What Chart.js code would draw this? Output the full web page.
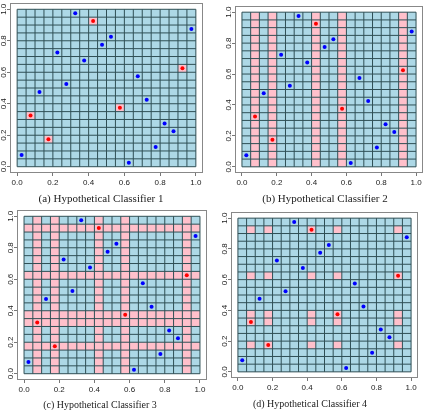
<!DOCTYPE html>
<html><head><meta charset="utf-8">
<script src="https://cdn.jsdelivr.net/npm/chart.js@4.4.1/dist/chart.umd.min.js"></script>
<style>
html,body{margin:0;padding:0;background:#fff;}
body{width:425px;height:410px;position:relative;overflow:hidden;}
canvas{position:absolute;}
.cap{position:absolute;font-family:"Liberation Serif",serif;color:#222;white-space:nowrap;transform:translateX(-50%);line-height:1;}
</style></head><body>
<canvas id="c1"></canvas><canvas id="c2"></canvas><canvas id="c3"></canvas><canvas id="c4"></canvas>
<div class="cap" id="t1"></div><div class="cap" id="t2"></div><div class="cap" id="t3"></div><div class="cap" id="t4"></div>
<script>
// ---- data ----
const blueX = [0.025,0.125,0.225,0.275,0.325,0.375,0.475,0.525,0.625,0.675,0.725,0.775,0.825,0.875,0.975];
const blueY = [0.075,0.475,0.725,0.525,0.975,0.675,0.775,0.825,0.025,0.575,0.425,0.125,0.275,0.225,0.875];
const redX  = [0.075,0.175,0.425,0.575,0.925];
const redY  = [0.325,0.175,0.925,0.375,0.625];
const tickValues = [0.0,0.2,0.4,0.6,0.8,1.0];
const gridValues = [0,0.05,0.1,0.15,0.2,0.25,0.3,0.35,0.4,0.45,0.5,0.55,0.6,0.65,0.7,0.75,0.8,0.85,0.9,0.95,1.0];
const cellSize = 0.05;
// pink cells (lower-left corners)
const clf1CellX = [0.05,0.15,0.40,0.55,0.90];
const clf1CellY = [0.30,0.15,0.90,0.35,0.60];
const clf2Cols  = [0.05,0.15,0.40,0.55,0.90];
const clf3Cols  = [0.05,0.15,0.40,0.55,0.90];
const clf3Rows  = [0.15,0.30,0.35,0.60,0.90];
const clf4Cols  = [0.05,0.15,0.40,0.55,0.90];
const clf4Rows  = [0.15,0.30,0.35,0.60,0.90];
const captions = ["(a) Hypothetical Classifier 1","(b) Hypothetical Classifier 2","(c) Hypothetical Classifier 3","(d) Hypothetical Classifier 4"];

// ---- rect lists built from the arrays ----
const rects1 = clf1CellX.map((x,i)=>[x,x+cellSize,clf1CellY[i],clf1CellY[i]+cellSize]);
const rects2 = clf2Cols.map(x=>[x,x+cellSize,0,1]);
const rects3 = clf3Cols.map(x=>[x,x+cellSize,0,1]).concat(clf3Rows.map(y=>[0,1,y,y+cellSize]));
const rects4 = [];
clf4Cols.forEach(x=>clf4Rows.forEach(y=>rects4.push([x,x+cellSize,y,y+cellSize])));

const cellPlugin = {
  id:'cellGrid',
  beforeDatasetsDraw(chart, args, opts){
    const {ctx, chartArea:a, scales:{x:sx, y:sy}} = chart;
    ctx.save();
    const X = v=>sx.getPixelForValue(v), Y = v=>sy.getPixelForValue(v);
    ctx.fillStyle = '#add8e6';
    ctx.fillRect(X(0), Y(1), X(1)-X(0), Y(0)-Y(1));
    ctx.fillStyle = '#ffc0cb';
    opts.rects.forEach(r=>{ ctx.fillRect(X(r[0]), Y(r[3]), X(r[1])-X(r[0]), Y(r[2])-Y(r[3])); });
    ctx.strokeStyle = '#2f4f55';
    ctx.lineWidth = 1;
    ctx.beginPath();
    gridValues.forEach(v=>{
      ctx.moveTo(X(v), Y(0)); ctx.lineTo(X(v), Y(1));
      ctx.moveTo(X(0), Y(v)); ctx.lineTo(X(1), Y(v));
    });
    ctx.stroke();
    ctx.strokeStyle = '#888';
    ctx.strokeRect(a.left+0.5, a.top+0.5, a.right-a.left-1, a.bottom-a.top-1);
    ctx.restore();
  }
};

const YW = 14, PT = 3, PR = 6, XH = 20;
function makeChart(id, rects, box, fs){
  const cv = document.getElementById(id);
  cv.width = (box.r-box.l)+YW+PR; cv.height = (box.b-box.t)+PT+XH;
  cv.style.left = (box.l-YW)+'px'; cv.style.top = (box.t-PT)+'px';
  cv.style.width = cv.width+'px'; cv.style.height = cv.height+'px';
  const tickFont = {family:'Liberation Sans', size:fs};
  new Chart(cv, {
    type:'scatter',
    data:{datasets:[
      {data: blueX.map((x,i)=>({x:x, y:blueY[i]})), backgroundColor:'#0000ff', borderWidth:0, pointRadius:2},
      {data: redX.map((x,i)=>({x:x, y:redY[i]})), backgroundColor:'#ff0000', borderWidth:0, pointRadius:2}
    ]},
    options:{
      responsive:false, animation:false, events:[],
      layout:{padding:{left:0, top:PT, right:PR, bottom:0}},
      plugins:{legend:{display:false}, tooltip:{enabled:false}, cellGrid:{rects:rects}},
      scales:{
        x:{type:'linear', min:-0.04, max:1.04,
          afterBuildTicks:s=>{s.ticks = tickValues.map(v=>({value:v}));},
          afterFit:s=>{s.height = XH; s.paddingLeft = 0; s.paddingRight = 0;},
          grid:{drawOnChartArea:false, drawTicks:true, tickLength:3, color:'#777'},
          border:{display:false},
          ticks:{font:tickFont, color:'#222', padding:2, maxRotation:0, minRotation:0, autoSkip:false, callback:v=>Number(v).toFixed(1)}},
        y:{type:'linear', min:-0.04, max:1.04,
          afterBuildTicks:s=>{s.ticks = tickValues.map(v=>({value:v}));},
          afterFit:s=>{s.width = YW; s.paddingTop = 0; s.paddingBottom = 0;},
          grid:{drawOnChartArea:false, drawTicks:true, tickLength:3, color:'#777'},
          border:{display:false},
          ticks:{font:tickFont, color:'#222', padding:-2, minRotation:90, maxRotation:90, crossAlign:'center', autoSkip:false, callback:v=>Number(v).toFixed(1)}}
      }
    },
    plugins:[cellPlugin]
  });
}
makeChart('c1', rects1, {l:10,t:2,r:203,b:173}, 8);
makeChart('c2', rects2, {l:235,t:5,r:423,b:173}, 8);
makeChart('c3', rects3, {l:17,t:209,r:207,b:380}, 8);
makeChart('c4', rects4, {l:231,t:211,r:418,b:378}, 8);

const capPos = [[101,199,11],[325,199,11],[100,405,10],[310,404,10]];
captions.forEach((c,i)=>{
  const el = document.getElementById('t'+(i+1));
  el.textContent = c;
  el.style.left = capPos[i][0]+'px';
  el.style.top = (capPos[i][1]-capPos[i][2]*0.55)+'px';
  el.style.fontSize = capPos[i][2]+'px';
});
</script>
</body></html>
